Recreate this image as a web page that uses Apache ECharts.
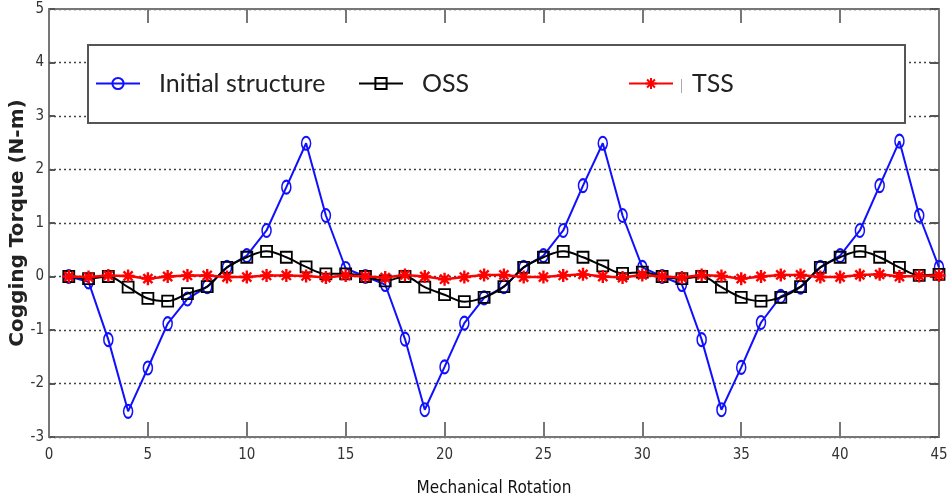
<!DOCTYPE html>
<html>
<head>
<meta charset="utf-8">
<script src="https://cdn.jsdelivr.net/npm/echarts@6/dist/echarts.min.js"></script>
<style>
  html, body { margin: 0; padding: 0; background: #fff; }
  #chart { width: 948px; height: 497px; }
</style>
</head>
<body>
<div id="chart"></div>
<script>
// mechanical rotation positions 1..45
const rotation = [1,2,3,4,5,6,7,8,9,10,11,12,13,14,15,16,17,18,19,20,21,22,23,24,25,26,27,28,29,30,31,32,33,34,35,36,37,38,39,40,41,42,43,44,45]

const initialStructure = [0,-0.1,-1.18,-2.52,-1.71,-0.88,-0.42,-0.19,0.17,0.39,0.86,1.67,2.49,1.14,0.15,
  0.0,-0.15,-1.17,-2.49,-1.69,-0.87,-0.4,-0.19,0.17,0.39,0.86,1.7,2.49,1.14,0.17,
  0.0,-0.15,-1.18,-2.49,-1.7,-0.86,-0.37,-0.2,0.17,0.39,0.86,1.7,2.53,1.14,0.17]

const oss = [0,-0.04,0,-0.2,-0.41,-0.46,-0.32,-0.19,0.17,0.36,0.47,0.36,0.18,0.05,0.05,
  0,-0.08,0,-0.2,-0.34,-0.47,-0.39,-0.19,0.17,0.36,0.47,0.36,0.2,0.06,0.08,
  0,-0.04,0,-0.2,-0.39,-0.46,-0.39,-0.19,0.17,0.36,0.47,0.36,0.17,0.02,0.04]

const tss = [0,-0.01,0.02,0.01,-0.04,0,0.02,0.02,-0.01,-0.01,0.02,0.02,0.01,-0.02,0.02,
  0,-0.02,0.03,0,-0.05,-0.01,0.03,0.03,-0.01,-0.01,0.02,0.04,0,-0.02,0.03,
  0,-0.02,0.03,0.01,-0.04,0,0.03,0.03,-0.01,-0.01,0.03,0.04,0,0.01,0.02]

const pairs = (ys) => rotation.map((x, i) => [x, ys[i]])

const asterisk = 'path://M5,0L5,10M0,5L10,5M1.5,1.5L8.5,8.5M8.5,1.5L1.5,8.5'
const narrow = "'Liberation Sans Narrow', 'DejaVu Sans Condensed', sans-serif"

const chart = echarts.init(document.getElementById('chart'))

const legendBase = {
  orient: 'horizontal',
  top: 71,
  z: 20,
  itemWidth: 44,
  itemHeight: 14,
  padding: 0,
  selectedMode: false,
  textStyle: {
    fontFamily: 'Lato, sans-serif',
    fontSize: 25,
    color: '#222',
    padding: [0, 0, 0, 14]
  }
}

const axisLine = { show: true, onZero: false, lineStyle: { color: '#777', width: 2 } }

const option = {
  animation: false,
  backgroundColor: '#fff',
  grid: { left: 49, right: 9, top: 9, bottom: 60, outerBoundsMode: 'none', containLabel: false },
  legend: [
    Object.assign({}, legendBase, { left: 95, data: ['Initial structure'] }),
    Object.assign({}, legendBase, { left: 358, data: ['OSS'] }),
    Object.assign({}, legendBase, { left: 628, data: ['TSS'] })
  ],
  graphic: [
    {
      type: 'rect', z: 10,
      shape: { x: 88, y: 45, width: 817, height: 78 },
      style: { fill: '#fff', stroke: '#555', lineWidth: 2 }
    },
    {
      type: 'rect', z: 11,
      shape: { x: 681, y: 79, width: 1, height: 14 },
      style: { fill: '#aaa' }
    }
  ],
  xAxis: [
    {
      type: 'value', min: 0, max: 45, interval: 5,
      name: 'Mechanical Rotation', nameLocation: 'middle', nameGap: 43,
      nameTextStyle: { fontFamily: narrow, fontSize: 17, color: '#111' },
      axisLine: axisLine,
      axisTick: { inside: true, length: 15, lineStyle: { color: '#777', width: 2 } },
      axisLabel: { fontFamily: narrow, fontSize: 15, color: '#333', margin: 11 },
      splitLine: { show: false }
    },
    {
      type: 'value', min: 0, max: 45, interval: 5, position: 'top',
      axisLine: axisLine,
      axisTick: { inside: true, length: 14, lineStyle: { color: '#777', width: 2 } },
      axisLabel: { show: false },
      splitLine: { show: false }
    }
  ],
  yAxis: [
    {
      type: 'value', min: -3, max: 5, interval: 1,
      name: 'Cogging Torque (N-m)', nameLocation: 'middle', nameGap: 21, nameMoveOverlap: false,
      nameTextStyle: { fontFamily: "'DejaVu Sans', Verdana, sans-serif", fontWeight: 'bold', fontSize: 20, color: '#222' },
      axisLine: axisLine,
      axisTick: { show: true, inside: true, length: 6, lineStyle: { color: '#555', width: 2 } },
      axisLabel: { fontFamily: narrow, fontSize: 15, color: '#333', margin: 5 },
      splitLine: { show: true, lineStyle: { color: '#444', width: 1.3, type: [2, 3] } }
    },
    {
      type: 'value', min: -3, max: 5, interval: 1, position: 'right',
      axisLine: axisLine,
      axisTick: { show: true, inside: true, length: 9, lineStyle: { color: '#555', width: 2 } },
      axisLabel: { show: false },
      splitLine: { show: false }
    }
  ],
  series: [
    {
      name: 'Initial structure',
      type: 'line',
      data: pairs(initialStructure),
      symbol: 'circle',
      symbolSize: [9, 13],
      showAllSymbol: true,
      lineStyle: { color: '#1010ff', width: 2 },
      itemStyle: { color: 'rgba(0,0,0,0)', borderColor: '#1010ff', borderWidth: 1.8 },
      z: 2
    },
    {
      name: 'OSS',
      type: 'line',
      data: pairs(oss),
      smooth: 0.35,
      symbol: 'rect',
      symbolSize: 11,
      showAllSymbol: true,
      lineStyle: { color: '#000', width: 2 },
      itemStyle: { color: 'rgba(0,0,0,0)', borderColor: '#000', borderWidth: 1.8 },
      z: 3
    },
    {
      name: 'TSS',
      type: 'line',
      data: pairs(tss),
      symbol: asterisk,
      symbolSize: 13,
      showAllSymbol: true,
      lineStyle: { color: '#ff0000', width: 2.5 },
      itemStyle: { color: 'rgba(0,0,0,0)', borderColor: '#ff0000', borderWidth: 2.4 },
      z: 4
    }
  ]
}

chart.setOption(option)
</script>
</body>
</html>
